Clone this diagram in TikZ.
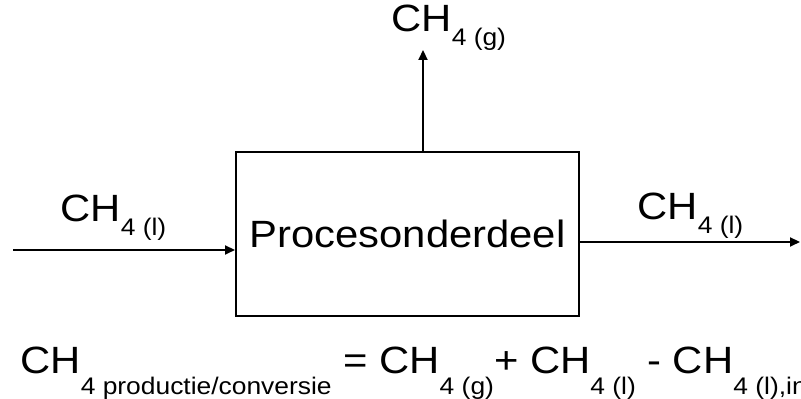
\documentclass[tikz,border=0pt]{standalone}
\usepackage{fontspec}
\setmainfont{Liberation Sans}[FakeStretch=1.1]
\usetikzlibrary{arrows.meta,positioning}

% subscripts behind CH, set lower and smaller
\newcommand{\chlab}[1]{CH\raisebox{-7pt}{\fontsize{12}{14}\selectfont #1}}
\newcommand{\cheq}[1]{CH\raisebox{-10.5pt}{\fontsize{12}{14}\selectfont #1}}

\begin{document}
\begin{tikzpicture}[
    x=0.5pt, y=0.5pt,
    unit/.style={rectangle, draw=black, line width=1pt, minimum width=171.5pt, minimum height=82pt, inner sep=0pt, font=\fontsize{19}{23}\selectfont},
    flow/.style={-{Triangle[length=5pt,width=4.5pt]}, line width=1pt},
    stream/.style={anchor=base west, inner sep=0pt, font=\fontsize{19}{23}\selectfont},
    balance/.style={anchor=base west, inner sep=0pt, font=\fontsize{19}{23}\selectfont}
]
\useasboundingbox (0,0) rectangle (801,399);
\clip (0,0) rectangle (801,399);

% Process unit
\node[unit] (proces) at (407.5,165) {Procesonderdeel};

% Free ends of the streams
\coordinate (gasout) at (423,349);
\coordinate (liqin) at (13,149);
\coordinate (liqout) at (800,157);

% Streams
\draw[flow] (proces.north -| gasout) -- (gasout);
\draw[flow] (liqin) -- (liqin -| proces.west);
\draw[flow] (liqout -| proces.east) -- (liqout);

% Stream labels
\node[stream] (gaslabel) at (391,367) {\chlab{4 (g)}};
\node[stream] (inlabel) at (60,177) {\chlab{4 (l)}};
\node[stream] (outlabel) at (637,179) {\chlab{4 (l)}};

% Balance
\node[balance] (balans) at (20,25) {\cheq{4 productie/conversie} = \cheq{4 (g)}+ \cheq{4 (l)} - \cheq{4 (l),in}};

\end{tikzpicture}
\end{document}
